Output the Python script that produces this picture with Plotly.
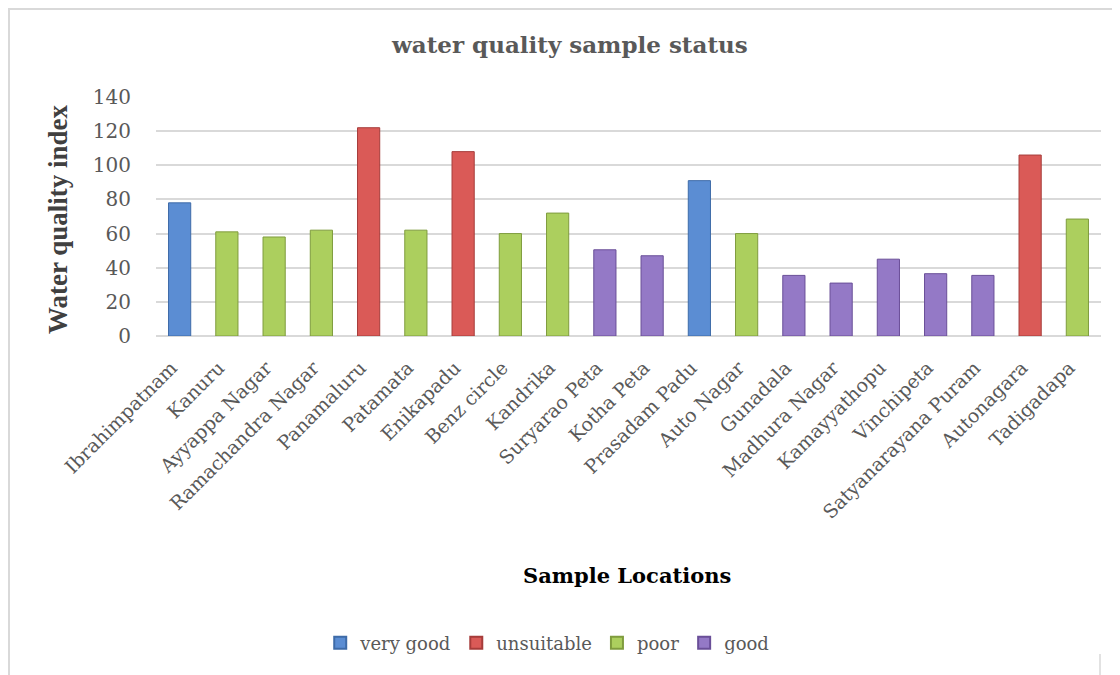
import plotly.graph_objects as go

locations = ["Ibrahimpatnam", "Kanuru", "Ayyappa Nagar", "Ramachandra Nagar", "Panamaluru",
             "Patamata", "Enikapadu", "Benz circle", "Kandrika", "Suryarao Peta", "Kotha Peta",
             "Prasadam Padu", "Auto Nagar", "Gunadala", "Madhura Nagar", "Kamayyathopu",
             "Vinchipeta", "Satyanarayana Puram", "Autonagara", "Tadigadapa"]
wqi = [78, 61, 58, 62, 122, 62, 108, 60, 72, 50.5, 47, 91, 60, 35.5, 31, 45, 36.5, 35.5, 106, 68.5]
status = ["very good", "poor", "poor", "poor", "unsuitable", "poor", "unsuitable", "poor", "poor",
          "good", "good", "very good", "poor", "good", "good", "good", "good", "good",
          "unsuitable", "poor"]
classes = ["very good", "unsuitable", "poor", "good"]
colors = {"very good": "#5B8DD3", "unsuitable": "#DA5A57", "poor": "#ACCF5E", "good": "#9479C6"}
lines = {"very good": "#3E6BA8", "unsuitable": "#A63C3A", "poor": "#7F9C3E", "good": "#6A4F98"}

fig = go.Figure()
for c in classes:
    fig.add_trace(go.Bar(
        x=locations,
        y=[v if s == c else None for v, s in zip(wqi, status)],
        name=c,
        marker=dict(color=colors[c], line=dict(color=lines[c], width=1)),
        width=0.47,
    ))

serif = "DejaVu Serif"
# page body has an 8px margin, so the figure is shifted up/left by 8px
fig.update_layout(
    width=1120, height=675,
    barmode="overlay",
    paper_bgcolor="white", plot_bgcolor="white",
    margin=dict(l=148, r=27, t=89, b=347),
    showlegend=True,
    legend=dict(orientation="h", x=0.414, xanchor="center", y=-1.2845, yanchor="middle",
                font=dict(family=serif, size=18, color="#595959"),
                itemsizing="constant", itemwidth=30, traceorder="normal"),
    font=dict(family=serif, color="#595959"),
)
fig.update_yaxes(range=[0, 140], dtick=20, showgrid=True, gridcolor="#D9D9D9", gridwidth=1.5,
                 zeroline=True, zerolinecolor="#D9D9D9", zerolinewidth=1.5, showline=False,
                 tickfont=dict(family=serif, size=20, color="#595959"), ticks="", ticklen=0,
                 ticklabelstandoff=24)
fig.update_xaxes(tickangle=-45, tickfont=dict(family=serif, size=19, color="#595959"),
                 showgrid=False, showline=False, ticks="",
                 ticklabelstandoff=16, ticklabelshift=-8)

fig.add_annotation(text="<b>water quality sample status</b>", xref="paper", yref="paper",
                   x=0.438, y=1.2176, xanchor="center", yanchor="middle", showarrow=False,
                   font=dict(family=serif, size=23, color="#595959"))
fig.add_annotation(text="<b>Water quality index</b>", xref="paper", yref="paper",
                   x=-0.1037, y=0.4895, xanchor="center", yanchor="middle",
                   textangle=-90, showarrow=False,
                   font=dict(family="Liberation Serif", size=27, color="#404040"))
fig.add_annotation(text="<b>Sample Locations</b>", xref="paper", yref="paper",
                   x=0.498, y=-1.004, xanchor="center", yanchor="middle", showarrow=False,
                   font=dict(family=serif, size=21, color="black"))
# outer chart border (left and top edges visible)
fig.add_shape(type="rect", xref="paper", yref="paper",
              x0=(1 - 148) / 945, x1=(1130 - 148) / 945,
              y0=(328 - 690) / 239, y1=(328 - 1) / 239,
              line=dict(color="#D9D9D9", width=2), fillcolor="rgba(0,0,0,0)", layer="below")
fig.add_shape(type="line", xref="paper", yref="paper",
              x0=(1092 - 148) / 945, x1=(1092 - 148) / 945,
              y0=(328 - 646) / 239, y1=(328 - 690) / 239,
              line=dict(color="#D9D9D9", width=1.5))

fig.write_html("out.html")
